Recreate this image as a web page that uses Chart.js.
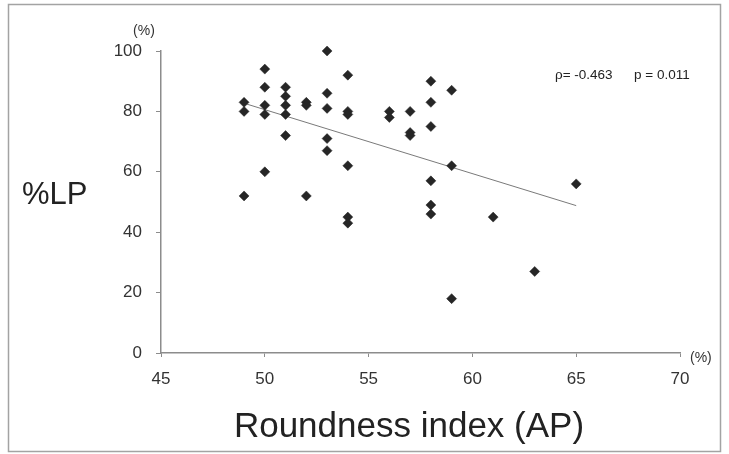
<!DOCTYPE html>
<html>
<head>
<meta charset="utf-8">
<script src="https://cdn.jsdelivr.net/npm/chart.js@4.4.1/dist/chart.umd.min.js"></script>
<style>
  html, body { margin: 0; padding: 0; background: #fff; }
  canvas { display: block; }
</style>
</head>
<body>
<canvas id="roundnessChart" width="729" height="454"></canvas>
<script>
// Roundness index (AP) vs %LP, one entry per case
const roundness = [49, 49, 49, 50, 50, 50, 50, 50, 51, 51, 51, 51, 51, 52, 52, 52,
    53, 53, 53, 53, 53, 54, 54, 54, 54, 54, 54, 56, 56, 57, 57, 57,
    58, 58, 58, 58, 58, 58, 59, 59, 59, 61, 63, 65];
const lpValues = [83, 80, 52, 94, 88, 82, 79, 60, 88, 85, 82, 79, 72, 83, 82, 52,
    100, 86, 81, 71, 67, 92, 80, 79, 62, 45, 43, 80, 78, 80, 73, 72,
    90, 83, 75, 57, 49, 46, 87, 62, 18, 45, 27, 56];

// regression line end points
const trendX = [49, 65];
const trendY = [82.7, 48.8];

const xTicks = [45, 50, 55, 60, 65, 70];
const yTicks = [0, 20, 40, 60, 80, 100];

const statText = ['\u03C1= -0.463', 'p = 0.011'];

const axisColor = '#8c8c8c';
const tickFont = { family: 'Liberation Sans, Arial, sans-serif', size: 17 };

const scatterPoints = roundness.map((x, i) => ({ x: x, y: lpValues[i] }));
const trendPoints = trendX.map((x, i) => ({ x: x, y: trendY[i] }));

/**
 * Frame around the figure plus the free-standing labels
 */
const annotations = {
    id: 'annotations',
    beforeDraw(chart) {
        const ctx = chart.ctx;
        ctx.save();
        ctx.fillStyle = '#fff';
        ctx.fillRect(0, 0, chart.width, chart.height);
        ctx.strokeStyle = '#a3a3a3';
        ctx.lineWidth = 1.5;
        ctx.strokeRect(8.5, 4.5, 712, 447);
        ctx.restore();
    },
    afterDraw(chart) {
        const ctx = chart.ctx;
        const area = chart.chartArea;
        ctx.save();
        ctx.fillStyle = '#222';

        // y title, horizontal
        ctx.font = '31px "Liberation Sans", Arial, sans-serif';
        ctx.textAlign = 'left';
        ctx.textBaseline = 'alphabetic';
        ctx.fillText('%LP', 22, 204);

        // x title
        ctx.font = '35px "Liberation Sans", Arial, sans-serif';
        ctx.textAlign = 'center';
        ctx.fillText('Roundness index (AP)', 409, 437);

        // unit markers
        ctx.fillStyle = '#333';
        ctx.font = '14px "Liberation Sans", Arial, sans-serif';
        ctx.textBaseline = 'middle';
        ctx.textAlign = 'center';
        ctx.fillText('(%)', area.left - 17, area.top - 20);
        ctx.textAlign = 'left';
        ctx.fillText('(%)', area.right + 10, area.bottom + 5);

        // correlation
        ctx.fillStyle = '#222';
        ctx.font = '13.5px "Liberation Sans", Arial, sans-serif';
        ctx.fillText(statText[0], 555, 75);
        ctx.fillText(statText[1], 634, 75);
        ctx.restore();
    }
};

new Chart(document.getElementById('roundnessChart').getContext('2d'), {
    type: 'scatter',
    data: {
        datasets: [
            {
                label: 'cases',
                data: scatterPoints,
                pointStyle: 'rectRot',
                pointRadius: 5,
                backgroundColor: '#262626',
                borderColor: '#262626',
                borderWidth: 0.5,
                clip: false
            },
            {
                type: 'line',
                label: 'trend',
                data: trendPoints,
                borderColor: '#7a7a7a',
                borderWidth: 1,
                pointRadius: 0,
                fill: false
            }
        ]
    },
    options: {
        responsive: false,
        animation: false,
        devicePixelRatio: 1,
        layout: {
            padding: { top: 51, right: 49, bottom: 0, left: 0 }
        },
        plugins: {
            legend: { display: false },
            tooltip: { enabled: false }
        },
        scales: {
            x: {
                type: 'linear',
                min: xTicks[0],
                max: xTicks[xTicks.length - 1],
                afterBuildTicks: (scale) => { scale.ticks = xTicks.map(v => ({ value: v })); },
                afterFit: (scale) => { scale.height = 101; },
                border: { display: true, color: axisColor, width: 1.5 },
                grid: { drawOnChartArea: false, drawTicks: true, tickLength: 4, color: axisColor },
                ticks: { font: tickFont, color: '#333', padding: 12, maxRotation: 0 }
            },
            y: {
                min: yTicks[0],
                max: yTicks[yTicks.length - 1],
                afterBuildTicks: (scale) => { scale.ticks = yTicks.map(v => ({ value: v })); },
                afterFit: (scale) => { scale.width = 161; },
                border: { display: true, color: axisColor, width: 1.5 },
                grid: { drawOnChartArea: false, drawTicks: true, tickLength: 5, color: axisColor },
                ticks: { font: tickFont, color: '#333', padding: 14 }
            }
        }
    },
    plugins: [annotations]
});
</script>
</body>
</html>
